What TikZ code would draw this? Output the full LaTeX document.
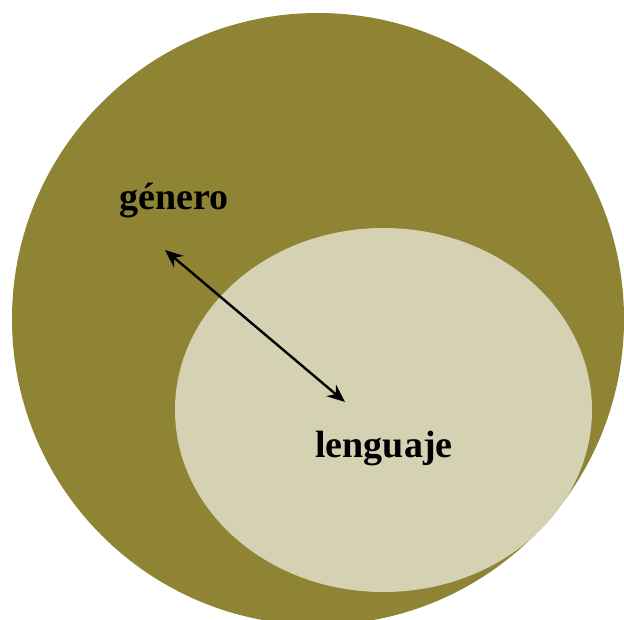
\documentclass[tikz,border=0pt]{standalone}
\usepackage{fontspec}
\setmainfont{Liberation Serif}
\usetikzlibrary{positioning, arrows.meta, shapes.geometric}

\definecolor{olive}{RGB}{142,132,52}
\definecolor{sand}{RGB}{212,210,179}

\begin{document}
\begin{tikzpicture}[
    x=1pt, y=-1pt,
    outer/.style={circle, fill=olive, minimum size=612pt, inner sep=0pt, outer sep=0pt},
    inner/.style={ellipse, fill=sand, minimum width=417pt, minimum height=364pt, inner sep=0pt, outer sep=0pt},
    word/.style={font=\bfseries\fontsize{38}{42}\selectfont, inner sep=0pt},
    arrow/.style={{Stealth[length=18pt, width=15pt]}-{Stealth[length=18pt, width=15pt]}, line width=2.4pt}
]
    \useasboundingbox (0,0) rectangle (624,619);
    \clip (0,0) rectangle (624,619);

    % NODES
    \node[outer] (genre) at (318,319) {};
    \node[inner] (lang) at (383.5,410) {};

    \node[word, anchor=base] (genre_text) at (174,209) {género};
    \node[word, anchor=base] (lang_text) at (384,457) {lenguaje};

    \coordinate (genre_end) at (165,250);
    \coordinate (lang_end) at (345,402);

    % EDGES
    \draw[arrow] (genre_end) -- (lang_end);

\end{tikzpicture}
\end{document}
